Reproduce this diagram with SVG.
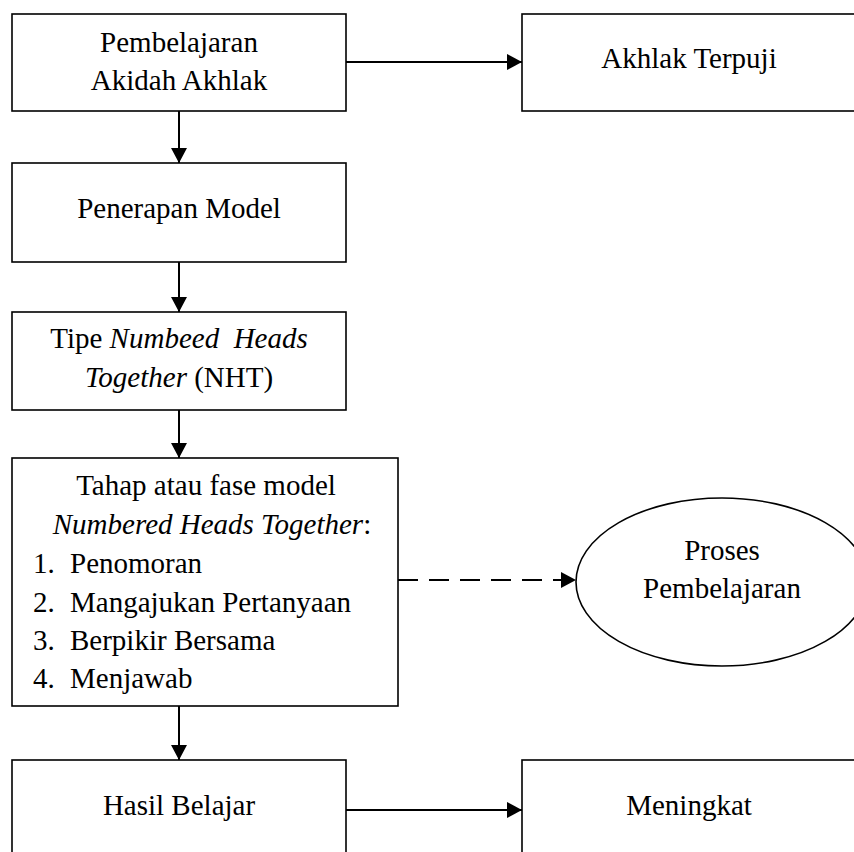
<svg xmlns="http://www.w3.org/2000/svg" width="854" height="852" viewBox="0 0 854 852">
<style>
.box{fill:#fff;stroke:#000;stroke-width:1.6}
.t{font-family:"Liberation Serif","Times New Roman",serif;font-size:29px;fill:#000}
.c{text-anchor:middle}
.i{font-style:italic}
.ln{stroke:#000;stroke-width:2;fill:none}
.dash{stroke-dasharray:20 11}
</style>
<defs>
<marker id="ah" markerUnits="userSpaceOnUse" markerWidth="17" markerHeight="17" refX="15" refY="8" orient="auto">
<path d="M0,0 L15,8 L0,16 Z" fill="#000"/>
</marker>
</defs>
<rect width="854" height="852" fill="#fff"/>
<g id="connectors">
<line class="ln" x1="346" y1="62" x2="522" y2="62" marker-end="url(#ah)"/>
<line class="ln" x1="179" y1="111" x2="179" y2="163" marker-end="url(#ah)"/>
<line class="ln" x1="179" y1="262" x2="179" y2="312" marker-end="url(#ah)"/>
<line class="ln" x1="179" y1="410" x2="179" y2="458" marker-end="url(#ah)"/>
<line class="ln dash" x1="398" y1="580" x2="576" y2="580" marker-end="url(#ah)"/>
<line class="ln" x1="179" y1="706" x2="179" y2="760" marker-end="url(#ah)"/>
<line class="ln" x1="346" y1="810" x2="522" y2="810" marker-end="url(#ah)"/>
</g>
<g id="n1">
<rect class="box" x="12" y="14" width="334" height="97"/>
<text class="t c" x="179" y="52">Pembelajaran</text>
<text class="t c" x="179" y="90">Akidah Akhlak</text>
</g>
<g id="n2">
<rect class="box" x="522" y="14" width="340" height="97"/>
<text class="t c" x="689" y="68">Akhlak Terpuji</text>
</g>
<g id="n3">
<rect class="box" x="12" y="163" width="334" height="99"/>
<text class="t c" x="179" y="218">Penerapan Model</text>
</g>
<g id="n4">
<rect class="box" x="12" y="312" width="334" height="98"/>
<text class="t c" x="179" y="348" xml:space="preserve">Tipe <tspan class="i">Numbeed  Heads</tspan></text>
<text class="t c" x="179" y="387"><tspan class="i">Together</tspan> (NHT)</text>
</g>
<g id="n5">
<rect class="box" x="12" y="458" width="386" height="248"/>
<text class="t c" x="206" y="495">Tahap atau fase model</text>
<text class="t c" x="212" y="534"><tspan class="i">Numbered Heads Together</tspan>:</text>
<text class="t" x="33" y="573">1.</text><text class="t" x="70" y="573">Penomoran</text>
<text class="t" x="33" y="612">2.</text><text class="t" x="70" y="612">Mangajukan Pertanyaan</text>
<text class="t" x="33" y="650">3.</text><text class="t" x="70" y="650">Berpikir Bersama</text>
<text class="t" x="33" y="688">4.</text><text class="t" x="70" y="688">Menjawab</text>
</g>
<g id="n6">
<ellipse class="box" cx="722" cy="582" rx="146" ry="84"/>
<text class="t c" x="722" y="560">Proses</text>
<text class="t c" x="722" y="598">Pembelajaran</text>
</g>
<g id="n7">
<rect class="box" x="12" y="760" width="334" height="110"/>
<text class="t c" x="179" y="815">Hasil Belajar</text>
</g>
<g id="n8">
<rect class="box" x="522" y="760" width="340" height="110"/>
<text class="t c" x="689" y="815">Meningkat</text>
</g>
</svg>
